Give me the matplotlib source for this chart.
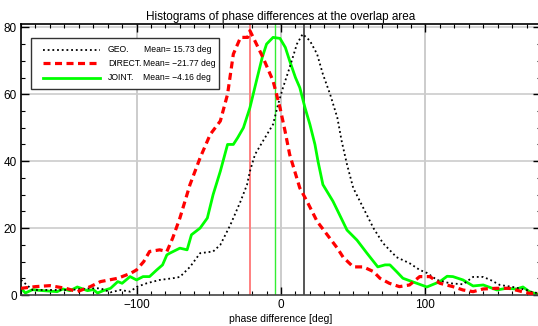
import matplotlib
matplotlib.use('Agg')
from matplotlib import pyplot as plt
from matplotlib.patches import Rectangle

plt.rcParams['font.family'] = ['Liberation Sans', 'DejaVu Sans']

# histogram curves (phase difference [deg], counts)
geo_x = [-180, -176, -172, -160, -146, -132, -125, -118, -111, -104.5, -100, -93, -84, -75, -70,
         -63, -56, -47, -42, -35, -28, -23.5, -21.5, -18, -12.5, -5.5, -2, 1.4, 6, 11, 15, 20,
         25, 29, 34, 39, 42, 45.7, 50, 57, 64, 70.6, 80, 89, 96, 101, 108, 117, 126, 133, 140,
         145, 151.5, 160.5, 170, 174, 180]
geo_y = [4.5, 3, 1.5, 1.5, 1.5, 2, 2, 0.8, 1.5, 1, 2.4, 3.5, 4.5, 5, 5.4,
         8.4, 12.5, 13, 15, 21, 28, 33, 37, 42, 46, 51, 57, 62, 68, 75, 78, 76,
         72, 66, 60, 53, 46, 39, 32, 26, 20, 15.5, 11.3, 9.5, 7.5, 6.6, 4.5, 3.5, 3.2, 5.4, 5.4,
         4.5, 3, 2.4, 1.5, 0.8, 0.5]

direct_x = [-180, -170, -160, -149, -141, -132, -125, -113, -104, -100, -95, -91, -84, -79, -75,
            -70, -63, -56, -49, -42, -37, -33, -28, -23, -21.5, -17, -12.5, -5.5, -0.7, 2.8, 6,
            13, 18, 25, 32, 39, 43, 50, 57, 64, 68.5, 75, 82, 89, 96, 103, 110, 119, 126, 133,
            140, 149, 158, 167, 172, 180]
direct_y = [2, 2.5, 2.8, 2, 1, 2.5, 4, 5, 6.5, 7.5, 10, 13, 13.5, 13, 17,
            23, 33, 41, 48, 52, 60, 72, 77, 77, 79, 75, 71, 64, 56, 49, 42,
            32, 28, 22, 18, 14, 11.3, 8.4, 8.4, 7, 5, 3.5, 2.5, 3, 5.5, 5.5, 3.5, 2.5, 1.5, 1,
            1.8, 2, 2, 1, 0.5, 0.5]

joint_x = [-180, -177, -172, -165, -155, -151, -146, -141, -134, -130, -127, -123, -118, -113,
           -110, -104.5, -100, -95.5, -91, -86, -82, -79, -77, -70, -65, -62, -56, -51, -47,
           -42, -37, -33, -30, -26, -21.5, -17, -13, -10, -5.5, -0.7, 3, 6, 10, 13, 16.6, 20,
           23.5, 25.6, 29, 36, 39.4, 45.7, 52.6, 59.5, 67, 72, 75.4, 80, 84.4, 94, 101, 110,
           115, 119, 126, 133, 140, 149.5, 156, 163, 167.5, 172, 177]
joint_y = [2, 0.6, 1.6, 1.3, 1, 1.8, 1.3, 2.4, 1.3, 1.6, 0.6, 1.3, 2, 4,
           3.5, 5.5, 4.5, 5.5, 5.5, 7.5, 9, 12, 12.5, 14, 13.5, 18, 20, 23, 30,
           37, 45, 45, 47, 50, 56, 64, 71, 75, 77, 76.7, 74, 70, 65, 62, 56, 51,
           45, 40, 33, 28, 25, 19.4, 16.4, 12.5, 8.4, 9, 9, 7, 5, 3.5, 2.4, 4,
           5.6, 5.5, 4.5, 2.7, 3, 1.5, 2, 1.8, 2.4, 1, 0.3]

labels = ['GEO.', 'DIRECT.', 'JOINT.']
means = [15.73, -21.77, -4.16]
mean_texts = ['Mean= 15.73 deg', 'Mean= \u221221.77 deg', 'Mean= \u22124.16 deg']

fig = plt.figure(figsize=(5.38, 3.26), dpi=100)
ax = fig.add_axes([21 / 538, 31 / 326, 520 / 538, 271 / 326])

# grid
for gx in [-100, 0, 100]:
    ax.axvline(gx, color='#cccccc', lw=1.4, zorder=0)
for gy in [20, 40, 60, 80]:
    ax.axhline(gy, color='#cccccc', lw=1.2, zorder=0)

# mean lines
ax.axvline(means[0], color='#555555', lw=1.4, zorder=1)
ax.axvline(means[1], color='#ff8080', lw=1.4, zorder=1)
ax.axvline(means[2], color='#33ee33', lw=1.0, zorder=1)

ax.plot(geo_x, geo_y, color='black', lw=1.3, linestyle=(0, (1, 1.6)), zorder=3)
ax.plot(direct_x, direct_y, color='#ff0000', lw=2.3, linestyle=(0, (2.2, 1.4)), zorder=3)
ax.plot(joint_x, joint_y, color='#00ff00', lw=2.0, zorder=2)

ax.set_xlim(-180, 180)
ax.set_ylim(0, 81)
ax.set_xticks([-100, 0, 100])
ax.set_xticklabels(['\u2212100', '0', '100'])
ax.set_xticks(range(-180, 181, 10), minor=True)
ax.set_yticks([0, 20, 40, 60, 80])
ax.set_yticks(range(0, 81, 5), minor=True)
ax.tick_params(which='both', direction='in', top=True, right=True, labelsize=8.5, pad=3)
ax.tick_params(which='major', length=6, width=1)
ax.tick_params(which='minor', length=3, width=0.8)
for s in ax.spines.values():
    s.set_linewidth(1.2)
ax.spines['bottom'].set_color('#444444')

ax.set_xlabel('phase difference [deg]', fontsize=7.5, labelpad=2)
ax.set_title('Histograms of phase differences at the overlap area', fontsize=8.5, pad=3)

# legend box drawn by hand
tr = ax.transAxes
def ax_xy(px, py):
    return ((px - 21) / 520, (295 - py) / 271)

x0, y0 = ax_xy(31, 89)
x1, y1 = ax_xy(219, 38)
ax.add_patch(Rectangle((x0, y0), x1 - x0, y1 - y0, transform=tr, facecolor='white',
                       edgecolor='#333333', lw=1.0, zorder=5))
styles = [dict(color='black', lw=1.3, linestyle=(0, (1, 1.6))),
          dict(color='#ff0000', lw=2.3, linestyle=(0, (2.2, 1.4))),
          dict(color='#00ff00', lw=2.0)]
for i, py in enumerate([50, 63, 78]):
    lx0, ly = ax_xy(43, py)
    lx1, _ = ax_xy(100, py)
    ax.plot([lx0, lx1], [ly, ly], transform=tr, zorder=6, **styles[i])
    tx, _ = ax_xy(108, py)
    ax.text(tx, ly, labels[i], transform=tr, fontsize=6.2, va='center', zorder=6)
    mx, _ = ax_xy(144 if i == 0 else 143, py)
    ax.text(mx, ly, mean_texts[i], transform=tr, fontsize=6.2, va='center', zorder=6)

fig.savefig('out.png', dpi=100)
